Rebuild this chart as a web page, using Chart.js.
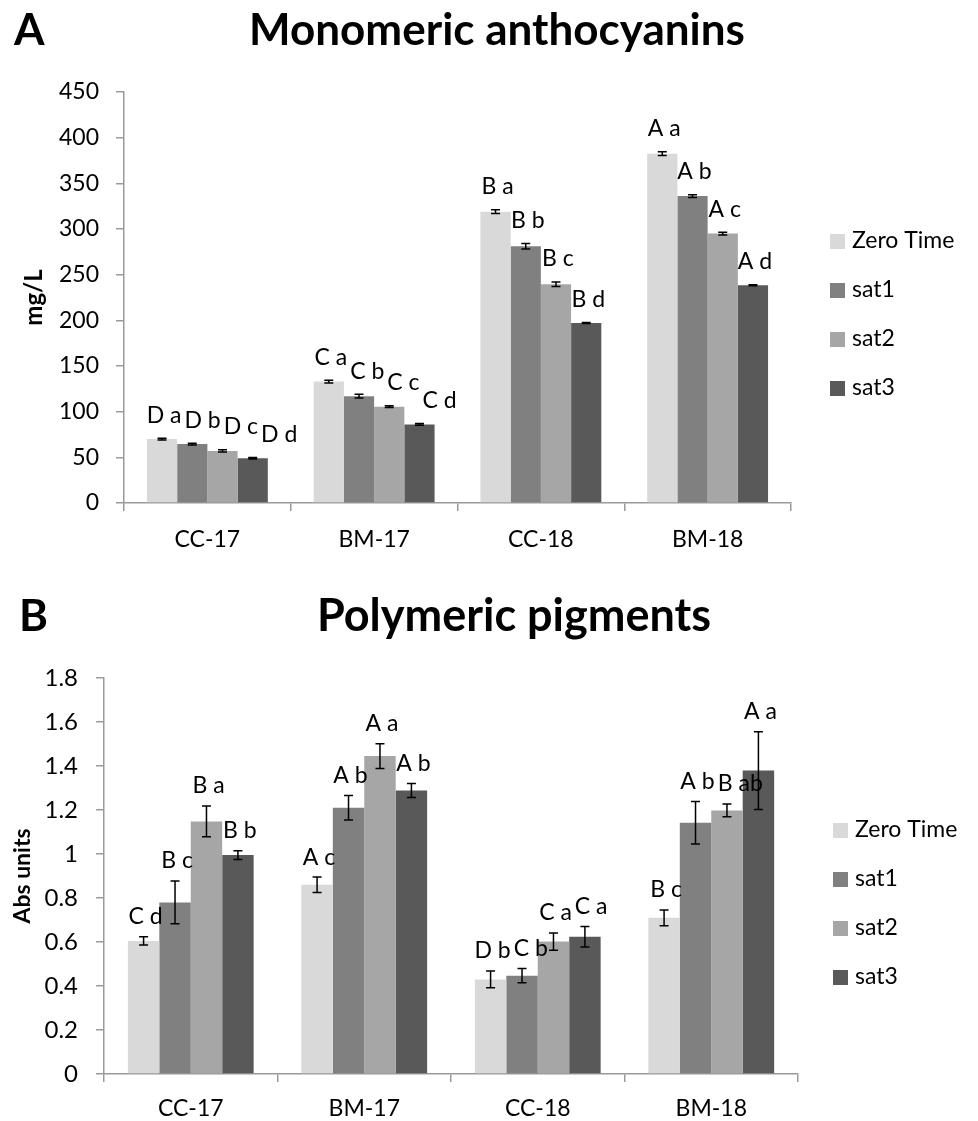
<!DOCTYPE html>
<html>
<head>
<meta charset="utf-8">
<script src="https://cdn.jsdelivr.net/npm/chart.js@4.4.0/dist/chart.umd.min.js"></script>
<style>
  body { margin: 0; background: #fff; }
  canvas { display: block; }
</style>
</head>
<body>
<canvas id="chartA" width="978" height="560"></canvas>
<canvas id="chartB" width="978" height="561"></canvas>
<script>
const categories = ['CC-17', 'BM-17', 'CC-18', 'BM-18'];
const seriesNames = ['Zero Time', 'sat1', 'sat2', 'sat3'];
const seriesColors = ['#d9d9d9', '#808080', '#a6a6a6', '#595959'];

// Monomeric anthocyanins (mg/L)
const anthoZero = [70, 133, 319, 382.5];
const anthoSat1 = [64.5, 117, 281, 336];
const anthoSat2 = [57, 105.5, 239.5, 295];
const anthoSat3 = [49, 86, 197, 238.5];
const anthoErrZero = [1, 1.5, 2, 2];
const anthoErrSat1 = [1, 2, 3, 1.5];
const anthoErrSat2 = [1.2, 1, 2.5, 1.5];
const anthoErrSat3 = [0.7, 1, 0.5, 0.5];
const anthoLetZero = ['D a', 'C a', 'B a', 'A a'];
const anthoLetSat1 = ['D b', 'C b', 'B b', 'A b'];
const anthoLetSat2 = ['D c', 'C c', 'B c', 'A c'];
const anthoLetSat3 = ['D d', 'C d', 'B d', 'A d'];
const anthoTicks = ['0', '50', '100', '150', '200', '250', '300', '350', '400', '450'];

// Polymeric pigments (Abs units)
const pigZero = [0.605, 0.86, 0.43, 0.71];
const pigSat1 = [0.78, 1.21, 0.447, 1.142];
const pigSat2 = [1.148, 1.445, 0.602, 1.198];
const pigSat3 = [0.995, 1.289, 0.624, 1.379];
const pigErrZero = [0.019, 0.035, 0.038, 0.036];
const pigErrSat1 = [0.097, 0.056, 0.032, 0.097];
const pigErrSat2 = [0.07, 0.056, 0.039, 0.029];
const pigErrSat3 = [0.02, 0.032, 0.047, 0.177];
const pigLetZero = ['C d', 'A c', 'D b', 'B c'];
const pigLetSat1 = ['B c', 'A b', 'C b', 'A b'];
const pigLetSat2 = ['B a', 'A a', 'C a', 'B ab'];
const pigLetSat3 = ['B b', 'A b', 'C a', 'A a'];
const pigTicks = ['0', '0.2', '0.4', '0.6', '0.8', '1', '1.2', '1.4', '1.6', '1.8'];

const FONT = 'Lato';
const axisColor = '#9a9a9a';

// error bars, letters, legend and panel titles
const extras = {
  id: 'extras',
  afterDatasetsDraw(chart, args, opts) {
    const ctx = chart.ctx;
    const y = chart.scales.y;
    const metas = chart.data.datasets.map((ds, d) => chart.getDatasetMeta(d));
    ctx.save();
    ctx.strokeStyle = '#000';
    ctx.lineWidth = 1.5;
    ctx.font = opts.letterSize + 'px ' + FONT;
    ctx.fillStyle = '#000';
    ctx.textAlign = 'center';
    ctx.textBaseline = 'middle';
    chart.data.labels.forEach((cat, i) => {
      let prev = null;
      chart.data.datasets.forEach((ds, d) => {
        const bar = metas[d].data[i];
        const v = ds.data[i];
        const e = opts.errors[d][i];
        const top = y.getPixelForValue(v + e);
        const bot = y.getPixelForValue(v - e);
        ctx.beginPath();
        ctx.moveTo(bar.x, top); ctx.lineTo(bar.x, bot);
        ctx.moveTo(bar.x - 4.5, top); ctx.lineTo(bar.x + 4.5, top);
        ctx.moveTo(bar.x - 4.5, bot); ctx.lineTo(bar.x + 4.5, bot);
        ctx.stroke();
        // letter label, nudged right when it would run into its neighbour
        const text = opts.letters[d][i];
        const w = ctx.measureText(text).width;
        const ly = top - opts.letterGap;
        let lx = bar.x + 2;
        if (prev && Math.abs(ly - prev.y) < opts.letterSize && lx - w / 2 < prev.right + 3) {
          lx = prev.right + 3 + w / 2;
        }
        ctx.fillText(text, lx, ly);
        prev = { right: lx + w / 2, y: ly };
      });
    });
    ctx.restore();
  },
  afterDraw(chart, args, opts) {
    const ctx = chart.ctx;
    const area = chart.chartArea;
    ctx.save();
    // legend
    ctx.font = '23px ' + FONT;
    ctx.textBaseline = 'middle';
    ctx.textAlign = 'left';
    chart.data.datasets.forEach((ds, d) => {
      const cy = area.top + opts.legendTop + d * 49;
      const bx = area.right + opts.legendGap;
      ctx.fillStyle = ds.backgroundColor;
      ctx.fillRect(bx, cy - 7, 15, 15);
      ctx.fillStyle = '#000';
      ctx.fillText(ds.label, bx + 22, cy);
    });
    // titles
    ctx.textBaseline = 'alphabetic';
    ctx.font = 'bold ' + opts.titleSize + 'px ' + FONT;
    ctx.textAlign = 'center';
    ctx.fillText(opts.title, opts.titleX, opts.titleY);
    ctx.font = 'bold 44px ' + FONT;
    ctx.textAlign = 'left';
    ctx.fillText(opts.panel, opts.panelX, opts.titleY);
    ctx.restore();
  }
};

function makeDatasets(values) {
  return values.map((vals, k) => ({
    label: seriesNames[k],
    data: vals,
    backgroundColor: seriesColors[k],
    borderWidth: 0,
    categoryPercentage: 0.725,
    barPercentage: 1.0,
  }));
}

function makeChart(id, cfg) {
  return new Chart(document.getElementById(id).getContext('2d'), {
    type: 'bar',
    data: { labels: categories, datasets: makeDatasets(cfg.values) },
    plugins: [extras],
    options: {
      responsive: false,
      animation: false,
      layout: { padding: { top: cfg.top, right: cfg.right, left: 0, bottom: 0 } },
      scales: {
        x: {
          afterFit(scale) { scale.height = cfg.xHeight; },
          grid: { drawOnChartArea: false, drawTicks: true, tickLength: 8, color: axisColor, lineWidth: 1.5 },
          border: { color: axisColor, width: 1.5 },
          ticks: { color: '#000', padding: cfg.xPad, font: { family: FONT, size: cfg.xSize } },
        },
        y: {
          min: 0,
          max: cfg.max,
          afterFit(scale) { scale.width = cfg.yWidth; },
          grid: { drawOnChartArea: false, drawTicks: true, tickLength: 8, color: axisColor, lineWidth: 1.5 },
          border: { color: axisColor, width: 1.5 },
          ticks: {
            stepSize: cfg.step,
            color: '#000',
            padding: cfg.yPad,
            font: { family: FONT, size: cfg.ySize },
            callback: (v, i) => cfg.ticks[i],
          },
          title: {
            display: true,
            text: cfg.yTitle,
            color: '#000',
            padding: { top: cfg.yTitlePad, bottom: 0 },
            font: { family: FONT, size: cfg.yTitleSize, weight: 'bold' },
          },
        },
      },
      plugins: {
        legend: { display: false },
        tooltip: { enabled: false },
        extras: {
          errors: cfg.errors,
          letters: cfg.letters,
          letterSize: cfg.letterSize,
          letterGap: cfg.letterGap,
          legendTop: cfg.legendTop,
          legendGap: cfg.legendGap,
          title: cfg.title,
          titleSize: cfg.titleSize,
          titleX: cfg.titleX,
          titleY: cfg.titleY,
          panel: cfg.panel,
          panelX: cfg.panelX,
        },
      },
    },
  });
}

makeChart('chartA', {
  values: [anthoZero, anthoSat1, anthoSat2, anthoSat3],
  errors: [anthoErrZero, anthoErrSat1, anthoErrSat2, anthoErrSat3],
  letters: [anthoLetZero, anthoLetSat1, anthoLetSat2, anthoLetSat3],
  ticks: anthoTicks,
  max: 450, step: 50,
  top: 92, right: 187, xHeight: 57, yWidth: 124,
  xPad: 15, yPad: 17, xSize: 23, ySize: 23,
  yTitle: 'mg/L', yTitleSize: 24, yTitlePad: 20,
  letterSize: 23, letterGap: 23,
  legendTop: 149, legendGap: 39,
  title: 'Monomeric anthocyanins', titleSize: 44, titleX: 497, titleY: 45,
  panel: 'A', panelX: 14,
});

makeChart('chartB', {
  values: [pigZero, pigSat1, pigSat2, pigSat3],
  errors: [pigErrZero, pigErrSat1, pigErrSat2, pigErrSat3],
  letters: [pigLetZero, pigLetSat1, pigLetSat2, pigLetSat3],
  ticks: pigTicks,
  max: 1.8, step: 0.2,
  top: 118, right: 180, xHeight: 47, yWidth: 104,
  xPad: 13, yPad: 18, xSize: 23, ySize: 24,
  yTitle: 'Abs units', yTitleSize: 23, yTitlePad: 9,
  letterSize: 23, letterGap: 20,
  legendTop: 152, legendGap: 35,
  title: 'Polymeric pigments', titleSize: 45, titleX: 514, titleY: 71,
  panel: 'B', panelX: 19,
});
</script>
</body>
</html>
